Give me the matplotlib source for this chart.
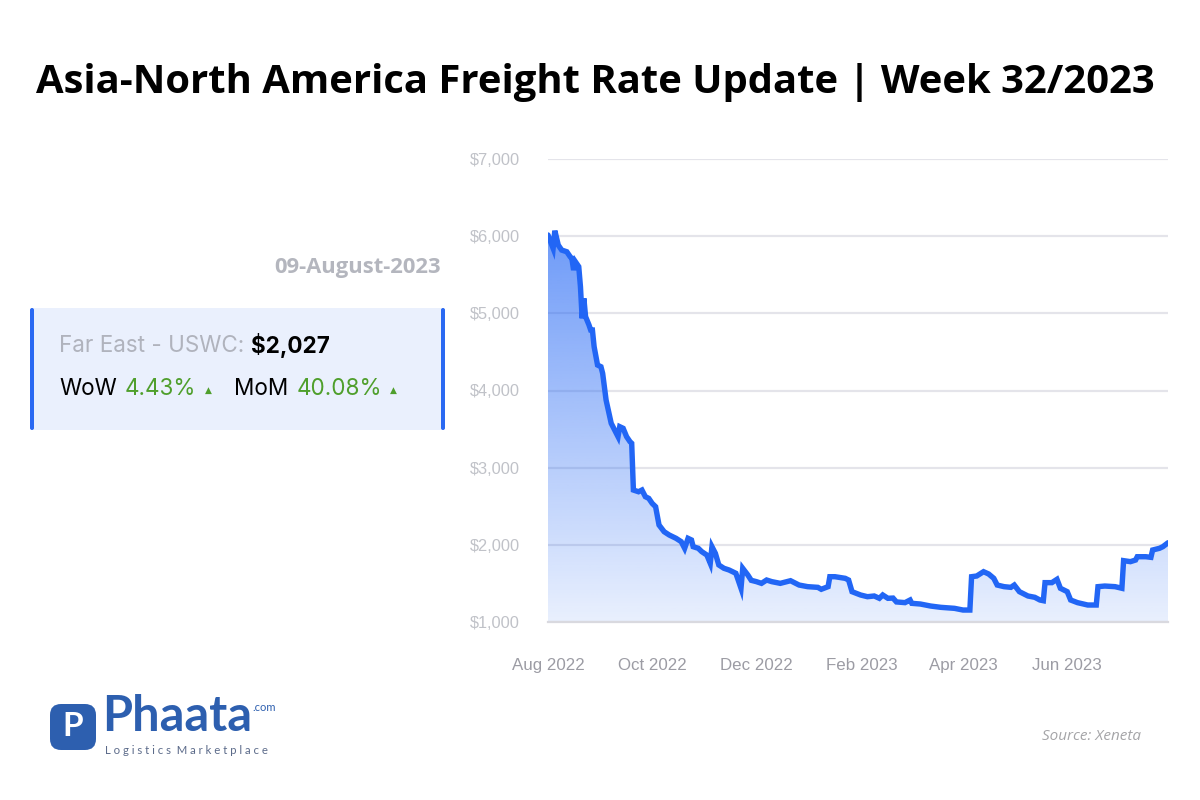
import matplotlib
matplotlib.use("Agg")
import matplotlib.pyplot as plt
import matplotlib.dates as mdates
from matplotlib.patches import FancyBboxPatch
import numpy as np
import pandas as pd

# ---------------- data ----------------
dates = [
    "2022-08-01", "2022-08-04", "2022-08-05", "2022-08-07", "2022-08-09", "2022-08-12",
    "2022-08-14", "2022-08-15", "2022-08-16", "2022-08-17", "2022-08-19", "2022-08-20",
    "2022-08-21", "2022-08-22", "2022-08-23", "2022-08-25", "2022-08-26", "2022-08-27",
    "2022-08-28", "2022-08-30", "2022-09-01", "2022-09-02", "2022-09-04", "2022-09-07",
    "2022-09-09", "2022-09-11", "2022-09-12", "2022-09-14", "2022-09-16", "2022-09-18",
    "2022-09-19", "2022-09-20", "2022-09-23", "2022-09-25", "2022-09-27", "2022-09-29",
    "2022-10-01", "2022-10-03", "2022-10-05", "2022-10-08", "2022-10-11", "2022-10-15",
    "2022-10-18", "2022-10-20", "2022-10-22", "2022-10-24", "2022-10-25", "2022-10-28",
    "2022-10-30", "2022-11-02", "2022-11-04", "2022-11-05", "2022-11-07", "2022-11-09",
    "2022-11-12", "2022-11-15", "2022-11-19", "2022-11-22", "2022-11-23", "2022-11-26",
    "2022-11-28", "2022-12-01", "2022-12-04", "2022-12-07", "2022-12-10", "2022-12-15",
    "2022-12-21", "2022-12-26", "2022-12-31", "2023-01-06", "2023-01-08", "2023-01-12",
    "2023-01-13", "2023-01-16", "2023-01-22", "2023-01-24", "2023-01-26", "2023-01-31",
    "2023-02-04", "2023-02-08", "2023-02-11", "2023-02-13", "2023-02-16", "2023-02-19",
    "2023-02-21", "2023-02-26", "2023-03-01", "2023-03-02", "2023-03-07", "2023-03-13",
    "2023-03-19", "2023-03-27", "2023-04-01", "2023-04-05", "2023-04-06", "2023-04-09",
    "2023-04-13", "2023-04-16", "2023-04-19", "2023-04-21", "2023-04-25", "2023-04-29",
    "2023-05-01", "2023-05-04", "2023-05-09", "2023-05-13", "2023-05-16", "2023-05-18",
    "2023-05-19", "2023-05-23", "2023-05-26", "2023-05-28", "2023-06-01", "2023-06-03",
    "2023-06-07", "2023-06-13", "2023-06-18", "2023-06-19", "2023-06-23", "2023-06-29",
    "2023-07-03", "2023-07-04", "2023-07-08", "2023-07-11", "2023-07-12", "2023-07-17",
    "2023-07-20", "2023-07-21", "2023-07-25", "2023-07-27", "2023-07-30",
]
rates = [
    6015, 5843, 6071, 5885, 5820, 5798,
    5733, 5710, 5560, 5670, 5605, 5345,
    4935, 5194, 4957, 4849, 4784, 4784,
    4568, 4330, 4308, 4222, 3877, 3575,
    3488, 3402, 3531, 3510, 3402, 3337,
    3316, 2710, 2688, 2710, 2624, 2602,
    2537, 2494, 2257, 2170, 2127, 2084,
    2041, 1955, 2084, 2063, 1976, 1955,
    1912, 1868, 1761, 1976, 1890, 1739,
    1696, 1674, 1631, 1437, 1696, 1609,
    1540, 1523, 1501, 1544, 1523, 1501,
    1535, 1479, 1458, 1449, 1424, 1458,
    1587, 1587, 1566, 1544, 1393, 1350,
    1328, 1337, 1307, 1350, 1307, 1310,
    1260, 1251, 1285, 1242, 1233, 1207,
    1190, 1177, 1155, 1155, 1587, 1596,
    1652, 1622, 1566, 1479, 1458, 1449,
    1479, 1393, 1337, 1320, 1285, 1276,
    1510, 1510, 1553, 1437, 1393, 1285,
    1251, 1220, 1220, 1458, 1466, 1458,
    1437, 1795, 1782, 1803, 1846, 1846,
    1838, 1933, 1955, 1976, 2027,
]
x_ticks = ["2022-08-01", "2022-10-01", "2022-12-01", "2023-02-01", "2023-04-01", "2023-06-01"]
y_ticks = [1000, 2000, 3000, 4000, 5000, 6000, 7000]

title = "Asia-North America Freight Rate Update | Week 32/2023"
report_date = "09-August-2023"
route_label = "Far East - USWC:"
route_price = "$2,027"
wow_value = "4.43%"
mom_value = "40.08%"

# ---------------- styles ----------------
LINE = "#2266f5"
GREEN = "#4f9f2c"
GRID = "#e4e4ea"
W, H = 1200, 800

fig = plt.figure(figsize=(12, 8), dpi=100)
fig.patch.set_facecolor("white")

ax = fig.add_axes([548 / W, 1 - 622 / H, 620 / W, 463 / H])
xd = mdates.date2num(pd.to_datetime(dates))
yv = np.array(rates, dtype=float)

ax.set_xlim(mdates.date2num(pd.Timestamp("2022-08-01")), mdates.date2num(pd.Timestamp("2023-07-30")))
ax.set_ylim(1000, 7000)

# gradient fill clipped by area under the line
poly = ax.fill_between(xd, yv, 1000, facecolor="none", edgecolor="none")
n = 256
alpha = np.linspace(0.10, 0.66, n)
rgb = np.array(matplotlib.colors.to_rgb(LINE))
img = np.zeros((n, 1, 4))
img[:, 0, :3] = rgb
img[:, 0, 3] = alpha
im = ax.imshow(img, extent=[xd[0], xd[-1], 1000, yv.max()], origin="lower",
               aspect="auto", zorder=1, interpolation="bilinear")
im.set_clip_path(poly.get_paths()[0], transform=ax.transData)

ax.plot(xd, yv, color=LINE, lw=3.9, zorder=3, solid_joinstyle="miter", solid_capstyle="round")

ax.set_yticks(y_ticks)
ax.set_yticklabels([f"${v:,}" for v in y_ticks])
ax.set_xticks(mdates.date2num(pd.to_datetime(x_ticks)))
ax.xaxis.set_major_formatter(mdates.DateFormatter("%b %Y"))
ax.grid(axis="y", color=GRID, lw=1.6, zorder=0)
ax.set_axisbelow(True)
for s in ["top", "right", "left"]:
    ax.spines[s].set_visible(False)
ax.spines["bottom"].set_color("#d9d9df")
ax.spines["bottom"].set_linewidth(1.6)
ax.tick_params(axis="y", length=0, pad=20, labelsize=11.8, labelcolor="#c0c2c8")
ax.tick_params(axis="x", length=0, pad=26, labelsize=12.2, labelcolor="#9c9ca4")
for lab in ax.get_xticklabels() + ax.get_yticklabels():
    lab.set_family("Liberation Sans")
ax.set_facecolor("none")

# ---------------- overlay texts ----------------
ov = fig.add_axes([0, 0, 1, 1], zorder=5)
ov.set_xlim(0, W)
ov.set_ylim(0, H)
ov.axis("off")
ov.patch.set_alpha(0)

ov.text(595, H - 82, title, ha="center", va="center", fontsize=28.8, fontweight="bold",
        family="Open Sans", color="black")

ov.text(441, H - 268, report_date, ha="right", va="center", fontsize=15.8, fontweight="bold",
        family="Open Sans", color="#b4b6be")

# info box
ov.add_patch(FancyBboxPatch((30, H - 430), 415, 122, boxstyle="round,pad=0,rounding_size=3",
                            facecolor="#eaf0fd", edgecolor="none"))
for bx in (30, 441):
    ov.add_patch(FancyBboxPatch((bx, H - 430), 4, 122, boxstyle="round,pad=0,rounding_size=2",
                                facecolor="#2a69f2", edgecolor="none"))

FS = 16.2
t1 = ov.text(59, H - 346, route_label, ha="left", va="center", fontsize=FS, family="Inter", color="#b0b3bd")
ov.annotate(route_price, xy=(1, 0.5), xycoords=t1, xytext=(5, 0), textcoords="offset points",
            ha="left", va="center", fontsize=FS, fontweight="bold", family="Inter", color="black")

t3 = ov.text(59, H - 389, "WoW", ha="left", va="center", fontsize=FS, family="Inter", color="black")
t4 = ov.annotate(wow_value, xy=(1, 0.5), xycoords=t3, xytext=(6, 0), textcoords="offset points",
                 ha="left", va="center", fontsize=FS, family="Inter", color=GREEN)
t5 = ov.annotate("\u25B2", xy=(1, 0.5), xycoords=t4, xytext=(6, -1), textcoords="offset points",
                 ha="left", va="center", fontsize=6.5, family="DejaVu Sans", color=GREEN)
t6 = ov.annotate("MoM", xy=(1, 0.5), xycoords=t5, xytext=(16, 1), textcoords="offset points",
                 ha="left", va="center", fontsize=FS, family="Inter", color="black")
t7 = ov.annotate(mom_value, xy=(1, 0.5), xycoords=t6, xytext=(6, 0), textcoords="offset points",
                 ha="left", va="center", fontsize=FS, family="Inter", color=GREEN)
ov.annotate("\u25B2", xy=(1, 0.5), xycoords=t7, xytext=(6, -1), textcoords="offset points",
            ha="left", va="center", fontsize=6.5, family="DejaVu Sans", color=GREEN)

# logo
LOGO = "#2d5faf"
ov.add_patch(FancyBboxPatch((50, H - 750), 46, 46, boxstyle="round,pad=0,rounding_size=11",
                            facecolor=LOGO, edgecolor="none"))
ov.text(73, H - 727, "P", ha="center", va="center", fontsize=24, fontweight="bold",
        family="Lato", color="white")
t_logo = ov.text(102, H - 731, "Phaata", ha="left", va="baseline", fontsize=35, fontweight="bold",
                 family="Lato", color=LOGO)
ov.annotate(".com", xy=(1, 1), xycoords=t_logo, xytext=(0, -6), textcoords="offset points",
            ha="left", va="top", fontsize=8, family="Lato", color=LOGO)
ov.text(105, H - 750, "L o g i s t i c s   M a r k e t p l a c e".replace("   ", "  "),
        ha="left", va="center", fontsize=8.2, family="Lato", color="#5c6b8a")

ov.text(1141, H - 737, "Source: Xeneta", ha="right", va="center", fontsize=11, style="italic",
        family="Open Sans", color="#a5a5a8")

fig.savefig("out.png", dpi=100, facecolor="white")
